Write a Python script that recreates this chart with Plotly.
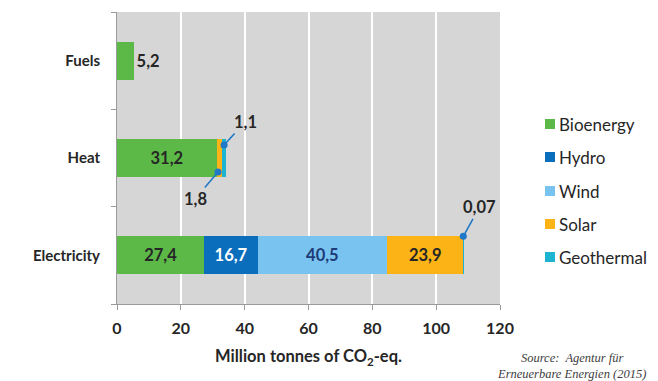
import plotly.graph_objects as go

# Greenhouse gas emissions avoided by renewable energy, by sector
categories = ["Electricity", "Heat", "Fuels"]
bioenergy = [27.4, 31.2, 5.2]
hydro = [16.7, 0, 0]
wind = [40.5, 0, 0]
solar = [23.9, 1.8, 0]
geothermal = [0.07, 1.1, 0]

source_names = ["Bioenergy", "Hydro", "Wind", "Solar", "Geothermal"]
x_ticks = [0, 20, 40, 60, 80, 100, 120]

W, H = 658, 381
ML, MR, MT, MB = 117, 158, 12, 77
PW, PH = W - ML - MR, H - MT - MB

FONT = "Lato"
DARK = "#262626"
CALLOUT = "#1f78c8"

colors = {
    "Bioenergy": "#5cb947",
    "Hydro": "#0a6ebd",
    "Wind": "#78c3ef",
    "Solar": "#fcb316",
    "Geothermal": "#1cb4d0",
}
text_colors = {
    "Bioenergy": DARK,
    "Hydro": "#ffffff",
    "Wind": "#1d3b78",
    "Solar": DARK,
    "Geothermal": DARK,
}
series = {
    "Bioenergy": bioenergy,
    "Hydro": hydro,
    "Wind": wind,
    "Solar": solar,
    "Geothermal": geothermal,
}


def fmt(v, digits=1):
    return f"{v:.{digits}f}".replace(".", ",")


def px_x(p):
    return (p - ML) / PW


def px_y(p):
    return 1 - (p - MT) / PH


fig = go.Figure()

for name in source_names:
    vals = series[name]
    texts = []
    positions = []
    for cat, v in zip(categories, vals):
        if cat == "Fuels" and v > 0:
            texts.append(fmt(v))
            positions.append("outside")
        elif v >= 5:
            texts.append(fmt(v))
            positions.append("inside")
        else:
            texts.append("")
            positions.append("none")
    fig.add_trace(go.Bar(
        name=name,
        y=categories,
        x=vals,
        orientation="h",
        marker=dict(color=colors[name], line=dict(width=0)),
        text=texts,
        textposition=positions,
        insidetextanchor="middle",
        textangle=0,
        insidetextfont=dict(family=FONT, size=16.5, color=text_colors[name], weight="bold"),
        outsidetextfont=dict(family=FONT, size=16.5, color=DARK, weight="bold"),
        cliponaxis=False,
        showlegend=False,
        hoverinfo="skip",
    ))

# Callouts for the thin segments
heat_i = categories.index("Heat")
elec_i = categories.index("Electricity")
callouts = [
    dict(x=bioenergy[heat_i] + solar[heat_i] * 0.25, y="Heat", yshift=-14,
         text=fmt(solar[heat_i]), ax=-23, ay=27),
    dict(x=bioenergy[heat_i] + solar[heat_i] + geothermal[heat_i] / 2, y="Heat", yshift=13,
         text=fmt(geothermal[heat_i]), ax=21, ay=-23),
    dict(x=bioenergy[elec_i] + hydro[elec_i] + wind[elec_i] + solar[elec_i], y="Electricity",
         yshift=19, text=fmt(geothermal[elec_i], 2), ax=16, ay=-29),
]
annotations = []
for c in callouts:
    annotations.append(dict(
        x=c["x"], y=c["y"], xref="x", yref="y", yshift=c["yshift"],
        text=c["text"], showarrow=True, ax=c["ax"], ay=c["ay"],
        arrowhead=6, arrowsize=1.1, arrowwidth=1.6, arrowcolor=CALLOUT,
        font=dict(family=FONT, size=16.5, color=DARK, weight="bold"),
    ))

# Legend drawn as swatches with labels
shapes = []
legend_y = [124, 157, 191, 224, 257]
for name, ly in zip(source_names, legend_y):
    shapes.append(dict(
        type="rect", xref="paper", yref="paper",
        x0=px_x(545), x1=px_x(555), y0=px_y(ly + 5), y1=px_y(ly - 5),
        fillcolor=colors[name], line=dict(width=0),
    ))
    annotations.append(dict(
        x=px_x(557), y=px_y(ly), xref="paper", yref="paper",
        xanchor="left", yanchor="middle", showarrow=False,
        text=name, font=dict(family=FONT, size=17, color=DARK),
    ))

annotations.append(dict(
    x=px_x(571), y=px_y(366), xref="paper", yref="paper",
    xanchor="center", yanchor="middle", showarrow=False, align="center",
    text="Source:  Agentur für<br>Erneuerbare Energien (2015)",
    font=dict(family="Liberation Serif", size=12.5, color="#404040", style="italic"),
))

fig.update_layout(
    width=W, height=H,
    margin=dict(l=ML, r=MR, t=MT, b=MB, pad=0),
    barmode="stack",
    bargap=0.61,
    plot_bgcolor="#d6d6d6",
    paper_bgcolor="#ffffff",
    font=dict(family=FONT, color=DARK),
    separators=",.",
    showlegend=False,
    annotations=annotations,
    shapes=shapes,
    xaxis=dict(
        range=[0, 120],
        tickvals=x_ticks,
        showgrid=True, gridcolor="#ffffff", gridwidth=1.8,
        zeroline=False,
        showline=True, linecolor="#9a9a9a", linewidth=1,
        ticks="outside", ticklen=5, tickcolor="#9a9a9a",
        ticklabelstandoff=5,
        tickfont=dict(family=FONT, size=16, color=DARK, weight="bold"),
        title=dict(text="Million tonnes of CO<sub>2</sub>-eq.",
                   font=dict(family=FONT, size=16.5, color=DARK, weight="bold"),
                   standoff=14),
        fixedrange=True,
    ),
    yaxis=dict(
        type="category",
        categoryorder="array", categoryarray=categories,
        showgrid=False, zeroline=False,
        showline=True, linecolor="#9a9a9a", linewidth=1,
        ticks="outside", ticklen=5, tickcolor="#9a9a9a",
        tickson="boundaries",
        ticklabelstandoff=13,
        tickfont=dict(family=FONT, size=15, color=DARK, weight="bold"),
        fixedrange=True,
    ),
)

fig.write_html("out.html")
